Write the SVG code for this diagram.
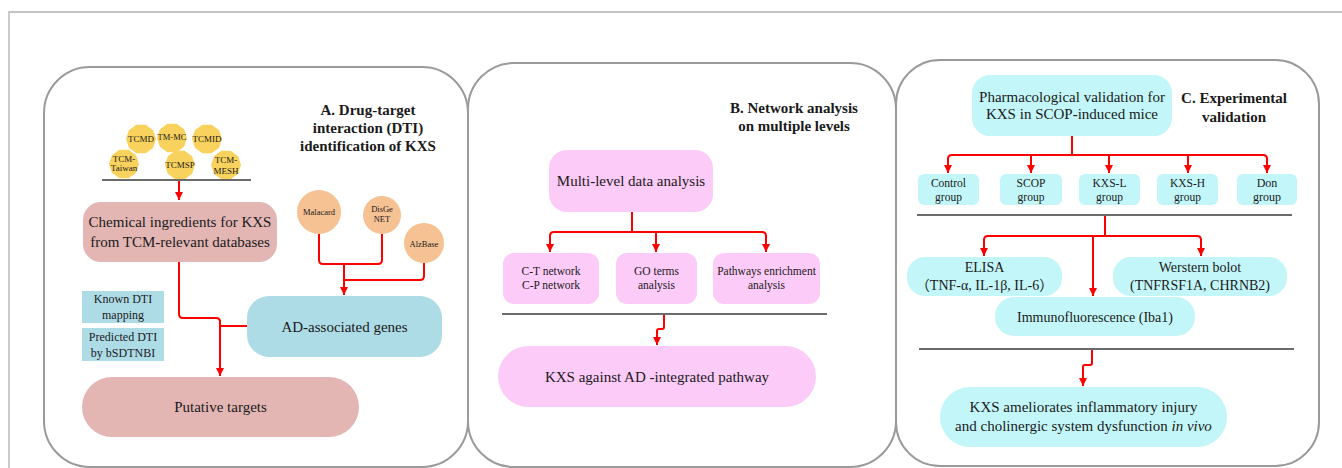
<svg xmlns="http://www.w3.org/2000/svg" xmlns:xlink="http://www.w3.org/1999/xlink" width="1342" height="468" viewBox="0 0 1342 468">
<style>
text{font-family:'Liberation Serif',serif;fill:#1a1a1a;text-anchor:middle}
.cjk{font-family:'Liberation Serif','Noto Sans CJK SC',serif}
.panel{fill:#fff;stroke:#9a9a9a;stroke-width:2}
.frame{fill:none;stroke:#b0b0b0;stroke-width:1.3}
.sep{stroke:#3a3a3a;stroke-width:1.3;fill:none}
.conn{fill:none;stroke:#ff0000;stroke-width:2}
.arr{marker-end:url(#ah)}
.title{font-weight:bold;font-size:15px}
.oct{fill:#f9d25e}
.orc{fill:#f6c193}
.pinkA{fill:#e3b6b4}
.blueA{fill:#aedce6}
.pinkB{fill:#fccbf8}
.cyan{fill:#c3f6f8}
.t15{font-size:15px}
.t14{font-size:14px}
.t12{font-size:12px}
.t11{font-size:11.5px}
.t9{font-size:9px}
.t8{font-size:8.5px}
</style>
<defs>
<marker id="ah" markerUnits="userSpaceOnUse" markerWidth="9" markerHeight="9" refX="8" refY="4" orient="auto">
<path d="M0,0 L8,4 L0,8 z" fill="#ff0000"/>
</marker>
<polygon id="dec" points="15,0 12.14,8.82 4.64,14.27 -4.64,14.27 -12.14,8.82 -15,0 -12.14,-8.82 -4.64,-14.27 4.64,-14.27 12.14,-8.82"/>
</defs>
<rect width="1342" height="468" fill="#fff"/>
<path class="frame" d="M9,468 V12 H1342"/>

<g id="panelA">
<rect class="panel" x="44" y="67" width="424" height="400" rx="46" ry="46"/>
<text class="title" x="368" y="115">A. Drug-target</text>
<text class="title" x="368" y="133">interaction (DTI)</text>
<text class="title" x="368" y="151">identification of KXS</text>
</g>
<g id="panelB">
<rect class="panel" x="468" y="63" width="428" height="404" rx="46" ry="46"/>
<text class="title" x="794" y="113">B. Network analysis</text>
<text class="title" x="794" y="131">on multiple levels</text>
</g>
<g id="panelC">
<rect class="panel" x="896" y="60" width="423" height="406" rx="44" ry="44"/>
<text class="title" x="1234" y="103">C. Experimental</text>
<text class="title" x="1234" y="122">validation</text>
</g>

<g id="databases">
<use xlink:href="#dec" class="oct" x="141" y="139"/>
<use xlink:href="#dec" class="oct" x="172" y="138"/>
<use xlink:href="#dec" class="oct" x="207" y="139"/>
<use xlink:href="#dec" class="oct" x="124" y="164"/>
<use xlink:href="#dec" class="oct" x="180" y="165"/>
<use xlink:href="#dec" class="oct" x="226" y="165"/>
<text class="t9" x="141" y="142">TCMD</text>
<text class="t8" x="172" y="140">TM-MC</text>
<text class="t9" x="207" y="142">TCMID</text>
<text class="t9" x="124" y="162">TCM-</text>
<text class="t9" x="124" y="171">Taiwan</text>
<text class="t9" x="180" y="168">TCMSP</text>
<text class="t9" x="226" y="163">TCM-</text>
<text class="t9" x="226" y="174">MESH</text>
</g>

<g id="diseaseDBs">
<circle class="orc" cx="319" cy="212" r="22"/>
<circle class="orc" cx="382" cy="215" r="19"/>
<circle class="orc" cx="424" cy="243" r="20"/>
<text class="t8" x="319" y="215">Malacard</text>
<text class="t8" x="382" y="212">DisGe</text>
<text class="t8" x="382" y="222">NET</text>
<text class="t8" x="424" y="247">AlzBase</text>
</g>

<g id="chem">
<rect class="pinkA" x="83" y="202" width="194" height="60" rx="18"/>
<text class="t15" x="180" y="227">Chemical ingredients for KXS</text>
<text class="t15" x="180" y="247">from TCM-relevant databases</text>
</g>
<g id="adgenes">
<rect class="blueA" x="247" y="296" width="195" height="61" rx="22"/>
<text class="t15" x="344.5" y="332">AD-associated genes</text>
</g>
<g id="knownDTI">
<rect class="blueA" x="82" y="291" width="82" height="32"/>
<text class="t12" x="123" y="303">Known DTI</text>
<text class="t12" x="123" y="319">mapping</text>
</g>
<g id="predDTI">
<rect class="blueA" x="82" y="328" width="82" height="33"/>
<text class="t12" x="123" y="341">Predicted DTI</text>
<text class="t12" x="123" y="357">by bSDTNBI</text>
</g>
<g id="putative">
<rect class="pinkA" x="82" y="377" width="277" height="60" rx="30"/>
<text class="t15" x="220.5" y="412">Putative targets</text>
</g>

<g id="multilevel">
<rect class="pinkB" x="549" y="150" width="164" height="62" rx="18"/>
<text class="t15" x="631" y="186">Multi-level data  analysis</text>
</g>
<g id="ctnet">
<rect class="pinkB" x="503" y="253" width="96" height="51" rx="11"/>
<text class="t11" x="551" y="275">C-T network</text>
<text class="t11" x="551" y="289">C-P network</text>
</g>
<g id="goterms">
<rect class="pinkB" x="616" y="253" width="81" height="51" rx="11"/>
<text class="t11" x="656.5" y="275">GO terms</text>
<text class="t11" x="656.5" y="289">analysis</text>
</g>
<g id="pathways">
<rect class="pinkB" x="713" y="253" width="107" height="51" rx="11"/>
<text class="t11" x="766.5" y="275">Pathways enrichment</text>
<text class="t11" x="766.5" y="289">analysis</text>
</g>
<g id="kxsAD">
<rect class="pinkB" x="498" y="346" width="318" height="61" rx="30.5"/>
<text class="t15" x="657" y="382">KXS against AD -integrated pathway</text>
</g>

<g id="pharma">
<rect class="cyan" x="972" y="75" width="200" height="61" rx="18"/>
<text class="t15" x="1072" y="102">Pharmacological validation for</text>
<text class="t15" x="1072" y="119">KXS in SCOP-induced mice</text>
</g>
<g id="control">
<rect class="cyan" x="918" y="174" width="61" height="31" rx="6"/>
<text class="t11" x="948.5" y="187">Control</text>
<text class="t11" x="948.5" y="201">group</text>
</g>
<g id="scop">
<rect class="cyan" x="1000" y="174" width="62" height="31" rx="6"/>
<text class="t11" x="1031" y="187">SCOP</text>
<text class="t11" x="1031" y="201">group</text>
</g>
<g id="kxsl">
<rect class="cyan" x="1079" y="174" width="61" height="31" rx="6"/>
<text class="t11" x="1109.5" y="187">KXS-L</text>
<text class="t11" x="1109.5" y="201">group</text>
</g>
<g id="kxsh">
<rect class="cyan" x="1157" y="174" width="61" height="31" rx="6"/>
<text class="t11" x="1187.5" y="187">KXS-H</text>
<text class="t11" x="1187.5" y="201">group</text>
</g>
<g id="don">
<rect class="cyan" x="1237" y="174" width="60" height="31" rx="6"/>
<text class="t12" x="1267" y="187">Don</text>
<text class="t12" x="1267" y="201">group</text>
</g>
<g id="elisa">
<rect class="cyan" x="907" y="257" width="155" height="39" rx="18"/>
<text class="t14" x="984.5" y="272">ELISA</text>
<text class="t14 cjk" x="984.5" y="290">（TNF-α, IL-1β, IL-6）</text>
</g>
<g id="western">
<rect class="cyan" x="1113" y="257" width="174" height="39" rx="18"/>
<text class="t14" x="1200" y="272">Werstern bolot</text>
<text class="t14" x="1200" y="290">(TNFRSF1A, CHRNB2)</text>
</g>
<g id="immuno">
<rect class="cyan" x="995" y="297" width="200" height="39" rx="19"/>
<text class="t14" x="1095" y="322">Immunofluorescence (Iba1)</text>
</g>
<g id="final">
<rect class="cyan" x="940" y="387" width="287" height="60" rx="30"/>
<text class="t15" x="1083.5" y="412">KXS ameliorates inflammatory injury</text>
<text class="t15" x="1083.5" y="431">and  cholinergic system dysfunction <tspan font-style="italic">in vivo</tspan></text>
</g>

<g id="separators">
<line class="sep" x1="102" y1="180" x2="251" y2="180"/>
<line class="sep" x1="502" y1="314" x2="827" y2="314"/>
<line class="sep" x1="917" y1="215" x2="1292" y2="215"/>
<line class="sep" x1="919" y1="349" x2="1294" y2="349"/>
</g>

<g id="connectors">
<path class="conn arr" d="M179,181 V200"/>
<path class="conn" d="M319,234 V260 Q319,264 323,264 H378 Q382,264 382,260 V234"/>
<path class="conn" d="M424,263 V276 Q424,280 420,280 H344"/>
<path class="conn arr" d="M344,264 V295"/>
<path class="conn" d="M179,262 V314 Q179,318 183,318 H216 Q220,318 220,322"/>
<path class="conn" d="M247,326 H220"/>
<path class="conn arr" d="M220,320 V376"/>

<path class="conn" d="M632,212 V232"/>
<path class="conn" d="M550,236 Q550,232 554,232 H762 Q766,232 766,236"/>
<path class="conn arr" d="M550,235 V252"/>
<path class="conn arr" d="M766,235 V252"/>
<path class="conn arr" d="M656,232 V252"/>
<path class="conn arr" d="M664,315 V327 Q664,329 662,329 H659 Q657,329 657,331 V345"/>

<path class="conn" d="M1072,136 V155"/>
<path class="conn" d="M948,159 Q948,155 952,155 H1263 Q1267,155 1267,159"/>
<path class="conn arr" d="M948,158 V173"/>
<path class="conn arr" d="M1031,155 V173"/>
<path class="conn arr" d="M1109,155 V173"/>
<path class="conn arr" d="M1188,155 V173"/>
<path class="conn arr" d="M1267,158 V173"/>

<path class="conn" d="M1105,216 V236"/>
<path class="conn" d="M984,240 Q984,236 988,236 H1197 Q1201,236 1201,240"/>
<path class="conn arr" d="M984,239 V256"/>
<path class="conn arr" d="M1201,239 V256"/>
<path class="conn arr" d="M1093,236 V296"/>
<path class="conn arr" d="M1092,350 V363 Q1092,365 1090,365 H1085 Q1083,365 1083,367 V386"/>
</g>
</svg>
